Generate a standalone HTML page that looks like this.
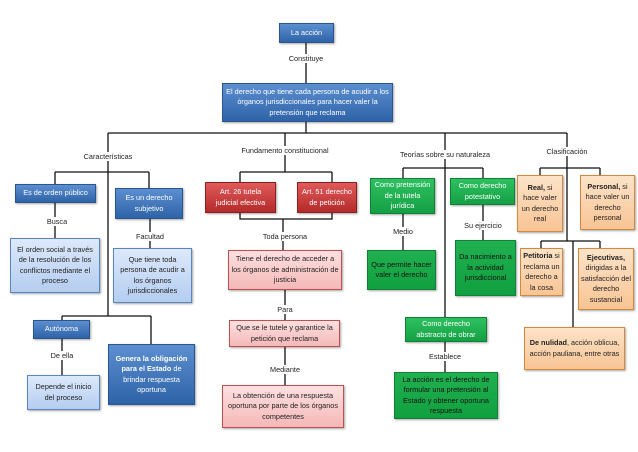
<!DOCTYPE html>
<html><head><meta charset="utf-8"><style>
body{margin:0;width:638px;height:452px;background:#fff;position:relative;overflow:hidden;font-family:"Liberation Sans",sans-serif;}
.b{position:absolute;box-sizing:border-box;display:flex;align-items:center;justify-content:center;text-align:center;font-size:7.3px;line-height:10.5px;padding:1px 2px;box-shadow:1px 1px 2px rgba(0,0,0,.35);}
.blue{background:linear-gradient(#5b8fd0,#2f63a8);color:#fff;border:1px solid #2a5590;}
.lblue{background:linear-gradient(#dde9fb,#b4cdf0);color:#222;border:1px solid #5a85c0;}
.red{background:linear-gradient(#e05a5a,#b52a2a);color:#fff;border:1px solid #8c2020;}
.lred{background:linear-gradient(#fde0e0,#f5b8b8);color:#222;border:1px solid #c05050;}
.green{background:linear-gradient(#2ec060,#14a045);color:#fff;border:1px solid #108035;}
.dgreen{background:linear-gradient(#20b050,#10a040);color:#111;border:1px solid #108035;}
.or{background:linear-gradient(#fde3c8,#f8c494);color:#222;border:1px solid #d08a40;}
.l{position:absolute;font-size:7.3px;color:#222;transform:translateX(-50%);white-space:nowrap;background:#fff;padding:0 1px;}
svg{position:absolute;left:0;top:0}
</style></head><body>
<svg width="638" height="452" stroke="#111" stroke-width="1.3" fill="none">
<path d="M306 43V83M306 122V133M108 133H567M108 133V316M285 133V172M445 133V318M567 133V168"/>
<path d="M55 172H149M55 172V184M149 172V188M55 203V238M150 219V248M62 316H151M62 316V320M151 316V344M62 339V375"/>
<path d="M240 172H332M240 172V182M332 172V182M240 213V219H332V213M283 219V250M285 290V320M285 347V385"/>
<path d="M403 168H483M403 168V178M483 168V178M403 214V250M483 205V240M445 342V372"/>
<path d="M540 168H600M540 168V175M600 168V175M567 168V241M541 241H600M541 241V248M600 241V248M573 241V327"/>
</svg>
<div class="b blue" style="left:279px;top:23px;width:55px;height:20px">La acción</div>
<div class="l" style="left:306px;top:54px">Constituye</div>
<div class="b blue" style="left:222px;top:83px;width:171px;height:39px">El derecho que tiene cada persona de acudir a los órganos jurisdiccionales para hacer valer la pretensión que reclama</div>
<div class="l" style="left:108px;top:152px">Características</div>
<div class="l" style="left:285px;top:146px">Fundamento constitucional</div>
<div class="l" style="left:445px;top:150px">Teorías sobre su naturaleza</div>
<div class="l" style="left:567px;top:147px">Clasificación</div>
<div class="b blue" style="left:15px;top:184px;width:81px;height:19px">Es de orden público</div>
<div class="b blue" style="left:115px;top:188px;width:68px;height:31px">Es un derecho subjetivo</div>
<div class="l" style="left:57px;top:217px">Busca</div>
<div class="l" style="left:150px;top:232px">Facultad</div>
<div class="b lblue" style="left:10px;top:238px;width:90px;height:55px">El orden social a través de la resolución de los conflictos mediante el proceso</div>
<div class="b lblue" style="left:113px;top:248px;width:79px;height:55px">Que tiene toda persona de acudir a los órganos jurisdiccionales</div>
<div class="b blue" style="left:33px;top:320px;width:57px;height:19px">Autónoma</div>
<div class="l" style="left:62px;top:351px">De ella</div>
<div class="b lblue" style="left:27px;top:375px;width:73px;height:35px">Depende el inicio del proceso</div>
<div class="b blue" style="left:108px;top:344px;width:87px;height:61px"><span><b>Genera la obligación para el Estado</b> de brindar respuesta oportuna</span></div>
<div class="b red" style="left:205px;top:182px;width:71px;height:31px">Art. 26 tutela judicial efectiva</div>
<div class="b red" style="left:297px;top:182px;width:60px;height:31px">Art. 51 derecho de petición</div>
<div class="l" style="left:285px;top:232px">Toda persona</div>
<div class="b lred" style="left:228px;top:250px;width:114px;height:40px">Tiene el derecho de acceder a los órganos de administración de justicia</div>
<div class="l" style="left:285px;top:305px">Para</div>
<div class="b lred" style="left:229px;top:320px;width:111px;height:27px">Que se le tutele y garantice la petición que reclama</div>
<div class="l" style="left:285px;top:365px">Mediante</div>
<div class="b lred" style="left:222px;top:385px;width:122px;height:43px">La obtención de una respuesta oportuna por parte de los órganos competentes</div>
<div class="b green" style="left:370px;top:178px;width:65px;height:36px">Como pretensión de la tutela jurídica</div>
<div class="b green" style="left:450px;top:178px;width:65px;height:27px">Como derecho potestativo</div>
<div class="l" style="left:403px;top:227px">Medio</div>
<div class="l" style="left:483px;top:221px">Su ejercicio</div>
<div class="b dgreen" style="left:367px;top:250px;width:69px;height:40px">Que permite hacer valer el derecho</div>
<div class="b dgreen" style="left:455px;top:240px;width:61px;height:56px">Da nacimiento a la actividad jurisdiccional</div>
<div class="b green" style="left:405px;top:317px;width:82px;height:25px">Como derecho abstracto de obrar</div>
<div class="l" style="left:445px;top:352px">Establece</div>
<div class="b dgreen" style="left:394px;top:372px;width:104px;height:47px">La acción es el derecho de formular una pretensión al Estado y obtener oportuna respuesta</div>
<div class="b or" style="left:517px;top:175px;width:46px;height:57px"><span><b>Real,</b> si hace valer un derecho real</span></div>
<div class="b or" style="left:580px;top:175px;width:55px;height:55px"><span><b>Personal,</b> si hace valer un derecho personal</span></div>
<div class="b or" style="left:520px;top:248px;width:43px;height:48px"><span><b>Petitoria</b> si reclama un derecho a la cosa</span></div>
<div class="b or" style="left:578px;top:248px;width:56px;height:62px"><span><b>Ejecutivas,</b> dirigidas a la satisfacción del derecho sustancial</span></div>
<div class="b or" style="left:524px;top:327px;width:101px;height:43px"><span><b>De nulidad</b>, acción oblicua, acción pauliana, entre otras</span></div>
</body></html>
